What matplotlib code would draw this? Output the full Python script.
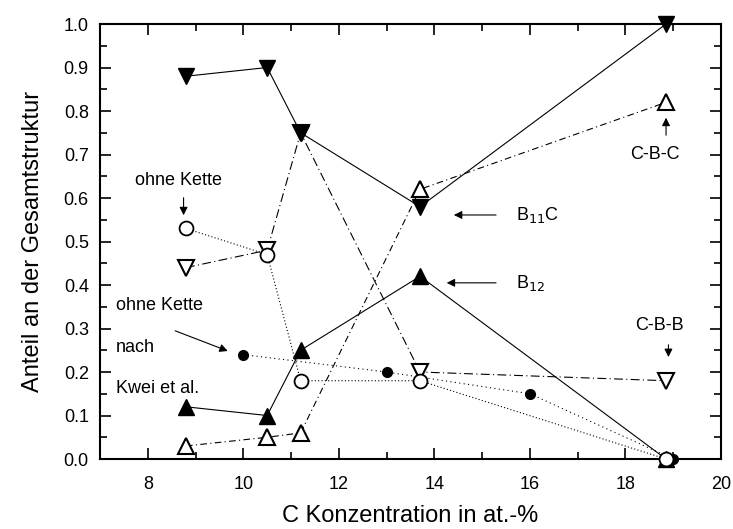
import numpy as np
import matplotlib
matplotlib.use("Agg")
import matplotlib.pyplot as plt
from matplotlib.ticker import MultipleLocator

plt.rcParams['font.family'] = ['Liberation Sans', 'DejaVu Sans']

# C-Konzentration der Proben
x_probe = [8.8, 10.5, 11.2, 13.7, 18.85]
b11c = [0.88, 0.90, 0.75, 0.58, 1.00]
b12 = [0.12, 0.10, 0.25, 0.42, 0.00]
cbc = [0.03, 0.05, 0.06, 0.62, 0.82]
cbb = [0.44, 0.48, 0.75, 0.20, 0.18]
ohne_kette = [0.53, 0.47, 0.18, 0.18, 0.00]

# ohne Kette nach Kwei et al.
x_kwei = [10.0, 13.0, 16.0, 19.0]
kwei = [0.24, 0.20, 0.15, 0.00]

fig = plt.figure(figsize=(7.33, 5.29), dpi=100)
ax = fig.add_axes([0.1364, 0.1323, 0.8472, 0.8223])

lw = 0.8
ax.plot(x_kwei, kwei, color='k', lw=lw, ls=(0, (1, 3)), marker='o', ms=7,
        mfc='k', mec='k', zorder=3, clip_on=False)
ax.plot(x_probe, cbb, color='k', lw=lw, ls=(0, (8, 3, 1, 3)), marker='v', ms=12,
        mfc='white', mec='k', mew=1.5, zorder=4, clip_on=False)
ax.plot(x_probe, cbc, color='k', lw=lw, ls=(0, (6, 3, 1, 3)), marker='^', ms=12,
        mfc='white', mec='k', mew=1.5, zorder=4, clip_on=False)
ax.plot(x_probe, b12, color='k', lw=lw, ls='-', marker='^', ms=12,
        mfc='k', mec='k', zorder=5, clip_on=False)
ax.plot(x_probe, b11c, color='k', lw=lw, ls='-', marker='v', ms=12,
        mfc='k', mec='k', zorder=5, clip_on=False)
ax.plot(x_probe, ohne_kette, color='k', lw=lw, ls=(0, (1, 2)), marker='o', ms=10,
        mfc='white', mec='k', mew=1.3, zorder=6, clip_on=False)

ax.set_xlim(7, 20)
ax.set_ylim(0, 1.0)
ax.xaxis.set_major_locator(MultipleLocator(2))
ax.xaxis.set_minor_locator(MultipleLocator(1))
ax.yaxis.set_major_locator(MultipleLocator(0.1))
ax.yaxis.set_minor_locator(MultipleLocator(0.05))
ax.yaxis.set_major_formatter(matplotlib.ticker.FormatStrFormatter('%.1f'))
ax.tick_params(which='both', direction='in', top=True, right=True, width=1.2,
               labelsize=13)
ax.tick_params(which='major', length=8)
ax.tick_params(which='minor', length=5)
ax.tick_params(axis='x', pad=12)
ax.tick_params(axis='y', pad=8)
for s in ax.spines.values():
    s.set_linewidth(1.5)

ax.set_xlabel('C Konzentration in at.-%', fontsize=17, labelpad=9)
ax.set_ylabel('Anteil an der Gesamtstruktur', fontsize=17, labelpad=14)

arr = dict(arrowstyle='-|>', color='k', lw=0.8, mutation_scale=12)
fs = 13

ax.text(8.65, 0.641, 'ohne Kette', fontsize=fs, ha='center', va='center')
ax.annotate('', xy=(8.75, 0.554), xytext=(8.75, 0.607), arrowprops=arr)

ax.text(7.33, 0.354, 'ohne Kette', fontsize=fs, ha='left', va='center')
ax.text(7.33, 0.257, 'nach', fontsize=fs, ha='left', va='center')
ax.text(7.33, 0.163, 'Kwei et al.', fontsize=fs, ha='left', va='center')
ax.annotate('', xy=(9.73, 0.246), xytext=(8.52, 0.297), arrowprops=arr)

ax.text(15.71, 0.561, r'B$_{11}$C', fontsize=fs, ha='left', va='center')
ax.annotate('', xy=(14.35, 0.561), xytext=(15.35, 0.561), arrowprops=arr)

ax.text(15.71, 0.405, r'B$_{12}$', fontsize=fs, ha='left', va='center')
ax.annotate('', xy=(14.2, 0.405), xytext=(15.35, 0.405), arrowprops=arr)

ax.text(18.1, 0.699, 'C-B-C', fontsize=fs, ha='left', va='center')
ax.annotate('', xy=(18.85, 0.791), xytext=(18.85, 0.738), arrowprops=arr)

ax.text(18.2, 0.308, 'C-B-B', fontsize=fs, ha='left', va='center')
ax.annotate('', xy=(18.9, 0.228), xytext=(18.9, 0.269), arrowprops=arr)

fig.savefig('out.png', dpi=100)
